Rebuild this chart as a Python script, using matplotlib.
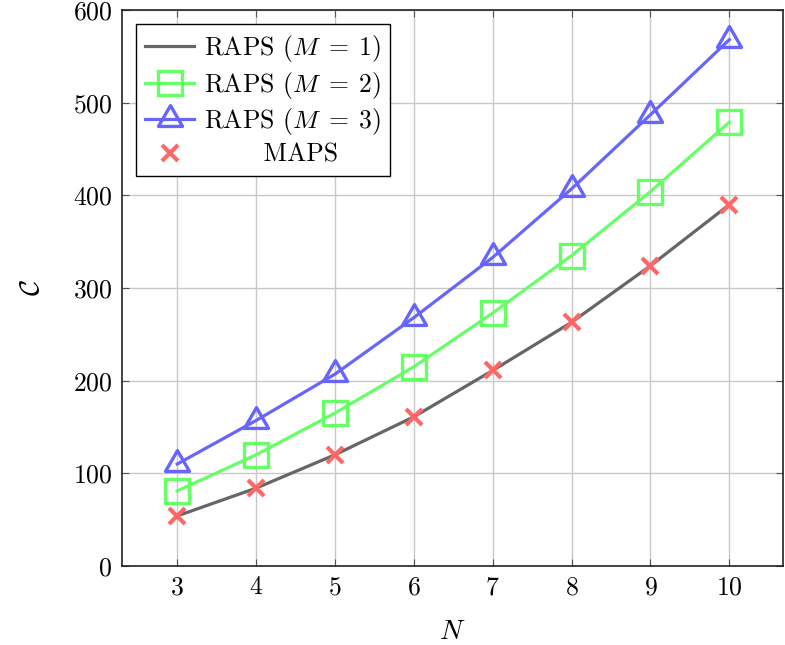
import matplotlib
matplotlib.use('Agg')
import matplotlib.pyplot as plt
from matplotlib.path import Path

plt.rcParams['font.family'] = 'serif'
plt.rcParams['font.serif'] = ['cmr10']
plt.rcParams['mathtext.fontset'] = 'cm'
plt.rcParams['axes.formatter.use_mathtext'] = True

# values
n_values = [3, 4, 5, 6, 7, 8, 9, 10]
raps_m1 = [54, 84, 120, 161, 211, 263, 324, 390]
raps_m2 = [81, 120, 165, 215, 273, 335, 404, 479]
raps_m3 = [110, 157, 207, 268, 333, 407, 487, 568]
maps = [54, 84, 120, 161, 211, 263, 324, 390]

gray = '#666666'
green = '#66ff66'
blue = '#6666ff'
red = '#ff6666'

# triangle centred on its circumcircle, like the pgfplots mark
tri = Path([(0, 1), (-0.866, -0.5), (0.866, -0.5), (0, 1)], closed=True)

fig = plt.figure(figsize=(7.85, 6.45), dpi=100)
ax = fig.add_axes([0.1554, 0.1225, 0.842, 0.862])

ax.plot(n_values, raps_m1, color=gray, lw=2.3, label=r'RAPS ($M\;=\;1$)')
ax.plot(n_values, raps_m2, color=green, lw=2.3, marker='s', ms=17.5,
        mfc='none', mew=2.4, label=r'RAPS ($M\;=\;2$)')
ax.plot(n_values, raps_m3, color=blue, lw=2.3, marker=tri, ms=20,
        mfc='none', mew=2.4, label=r'RAPS ($M\;=\;3$)')
ax.plot(n_values, maps, ls='none', color=red, marker='x', ms=11,
        mew=3, label='       MAPS')

ax.set_xlim(2.3, 10.68)
ax.set_ylim(0, 600)
ax.set_xticks(n_values)
ax.set_yticks(range(0, 601, 100))
ax.grid(True, color='#c8c8c8', lw=1)
ax.set_axisbelow(True)
ax.tick_params(direction='in', top=True, right=True, labelsize=18.5,
               length=5, color='#555555', pad=7)
for s in ax.spines.values():
    s.set_linewidth(1.2)
    s.set_color('#222222')

ax.set_xlabel(r'$N$', fontsize=20, labelpad=14)
ax.set_ylabel(r'$\mathcal{C}$', fontsize=20, labelpad=20)

leg = ax.legend(loc='upper left', fontsize=18.5, fancybox=False,
                framealpha=1, edgecolor='black', handlelength=1.9,
                borderpad=0.35, labelspacing=0.22, handletextpad=0.4,
                borderaxespad=0.55)
leg.get_frame().set_linewidth(1.0)

fig.savefig('out.png', dpi=100)
